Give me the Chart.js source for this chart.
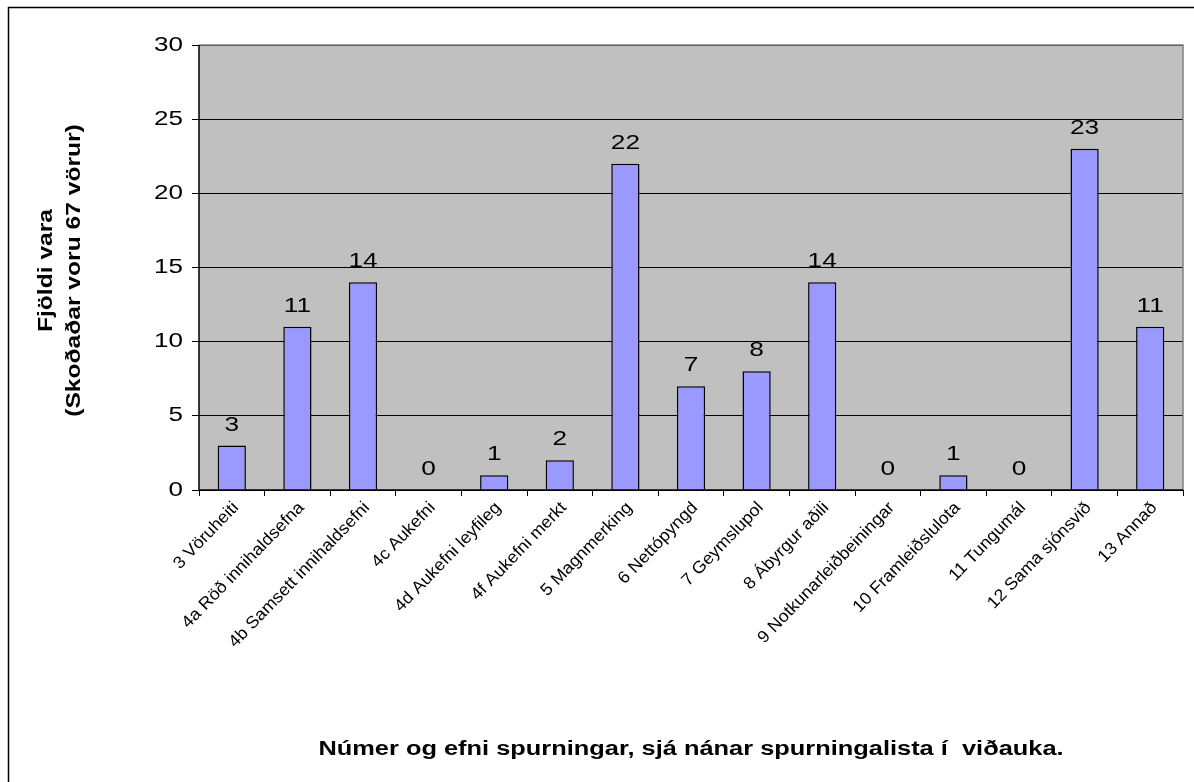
<!DOCTYPE html>
<html>
<head>
<meta charset="utf-8">
<script src="https://cdn.jsdelivr.net/npm/chart.js@4"></script>
<style>
html,body{margin:0;padding:0;background:#fff;overflow:hidden;}
#wrap{position:absolute;left:0;top:0;width:1194px;height:782px;}
</style>
</head>
<body>
<div id="wrap"><canvas id="c" width="1194" height="782"></canvas></div>
<script>
const categories = ['3 Vöruheiti','4a Röð innihaldsefna','4b Samsett innihaldsefni','4c Aukefni','4d Aukefni leyfileg','4f Aukefni merkt','5 Magnmerking','6 Nettópyngd','7 Geymslupol','8 Ábyrgur aðili','9 Notkunarleiðbeiningar','10 Framleiðslulota','11 Tungumál','12 Sama sjónsvið','13 Annað'];
const counts = [3, 11, 14, 0, 1, 2, 22, 7, 8, 14, 0, 1, 0, 23, 11];
const yTicks = [0, 5, 10, 15, 20, 25, 30];
const yTitle = ['Fjöldi vara', '(Skoðaðar voru 67 vörur)'];
const xTitle = 'Númer og efni spurningar, sjá nánar spurningalista í  viðauka.';

const FONT = "'Liberation Sans', Arial, sans-serif";

// draw text stretched along its baseline (the reference text is wide)
function wideText(ctx, str, x, y, opts) {
  ctx.save();
  ctx.translate(x, y);
  if (opts.rot) ctx.rotate(opts.rot);
  ctx.scale(opts.sx || 1, 1);
  ctx.font = (opts.bold ? 'bold ' : '') + opts.size + 'px ' + FONT;
  ctx.fillStyle = '#000';
  ctx.textAlign = opts.align || 'center';
  ctx.textBaseline = opts.base || 'alphabetic';
  ctx.fillText(str, 0, 0);
  ctx.restore();
}

const framePlugin = {
  id: 'frame',
  beforeDraw(chart) {
    const ctx = chart.ctx;
    ctx.save();
    ctx.fillStyle = '#ffffff';
    ctx.fillRect(0, 0, chart.width, chart.height);
    ctx.strokeStyle = '#000';
    ctx.lineWidth = 1.5;
    ctx.beginPath();
    ctx.moveTo(8.5, 800);
    ctx.lineTo(8.5, 7.5);
    ctx.lineTo(1200, 7.5);
    ctx.stroke();
    const a = chart.chartArea;
    ctx.fillStyle = '#C0C0C0';
    ctx.fillRect(a.left, a.top, a.right - a.left, a.bottom - a.top);
    ctx.restore();
  },
  afterDatasetsDraw(chart) {
    const ctx = chart.ctx;
    const a = chart.chartArea;
    ctx.save();
    ctx.strokeStyle = '#808080';
    ctx.lineWidth = 1.5;
    ctx.beginPath();
    ctx.moveTo(a.left, a.top);
    ctx.lineTo(a.right, a.top);
    ctx.lineTo(a.right, a.bottom);
    ctx.stroke();
    ctx.strokeStyle = '#000';
    ctx.beginPath();
    ctx.moveTo(a.left, a.top);
    ctx.lineTo(a.left, a.bottom);
    ctx.lineTo(a.right, a.bottom);
    ctx.stroke();
    ctx.restore();

    // value labels above bars
    const meta = chart.getDatasetMeta(0);
    meta.data.forEach((bar, i) => {
      wideText(ctx, String(counts[i]), bar.x, bar.y - 15, { size: 21, sx: 1.25 });
    });

    // y tick labels
    const ys = chart.scales.y;
    ys.ticks.forEach(t => {
      wideText(ctx, String(t.value), 183, ys.getPixelForValue(t.value), { size: 20, sx: 1.3, align: 'right', base: 'middle' });
    });

    // x tick labels (rotated)
    const xs = chart.scales.x;
    xs.getLabels().forEach((lab, i) => {
      const xc = xs.getPixelForTick(i);
      wideText(ctx, lab, xc + 4, 505, { size: 17, sx: 1.05, align: 'right', base: 'middle', rot: -46 * Math.PI / 180 });
    });

    // axis titles
    const yc = (a.top + a.bottom) / 2 + 3;
    wideText(ctx, yTitle[0], 46, yc, { size: 20, bold: true, sx: 1.23, base: 'middle', rot: -Math.PI / 2 });
    wideText(ctx, yTitle[1], 74, yc, { size: 20, bold: true, sx: 1.23, base: 'middle', rot: -Math.PI / 2 });
    wideText(ctx, xTitle, (a.left + a.right) / 2, 755, { size: 20, bold: true, sx: 1.27 });
  }
};

new Chart(document.getElementById('c'), {
  type: 'bar',
  data: {
    labels: categories,
    datasets: [{
      data: counts,
      backgroundColor: '#9999FF',
      borderColor: '#000000',
      borderWidth: 1.5,
      borderSkipped: 'start',
      categoryPercentage: 1.0,
      barPercentage: 0.43
    }]
  },
  options: {
    responsive: false,
    animation: false,
    devicePixelRatio: 1,
    layout: { padding: { top: 45, right: 11, left: 0, bottom: 0 } },
    plugins: { legend: { display: false }, tooltip: { enabled: false } },
    scales: {
      x: {
        offset: true,
        grid: { offset: true, drawOnChartArea: false, drawTicks: true, tickLength: 6, color: '#000', lineWidth: 1 },
        border: { display: false },
        ticks: { display: false, autoSkip: false },
        afterFit(scale) { scale.height = 292; }
      },
      y: {
        min: 0, max: 30,
        afterBuildTicks(scale) { scale.ticks = yTicks.map(v => ({ value: v })); },
        grid: { color: '#000', lineWidth: 1, drawTicks: true, tickLength: 7 },
        border: { display: false },
        ticks: { display: false },
        afterFit(scale) { scale.width = 199; }
      }
    }
  },
  plugins: [framePlugin]
});
</script>
</body>
</html>
